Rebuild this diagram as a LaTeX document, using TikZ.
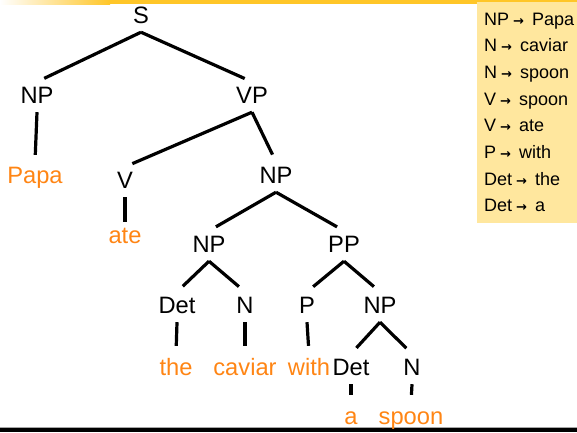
\documentclass[tikz,border=0pt]{standalone}
\usepackage{fontspec}
\usepackage{xcolor}
\usepackage{tikz}
\setmainfont{Liberation Sans}
\newfontfamily\arrowfont{DejaVu Sans}

\definecolor{wordorange}{RGB}{255,133,20}
\definecolor{rulefill}{RGB}{255,231,158}
\definecolor{topbar}{RGB}{255,198,40}

\newcommand{\rulearrow}{\hspace{4pt}{\arrowfont\bfseries\fontsize{13}{13}\selectfont →}\hspace{8pt}}

\begin{document}
\begin{tikzpicture}[x=1pt, y=-1pt,
    cat/.style={font=\fontsize{23.7}{28}\selectfont, inner xsep=0pt, inner ysep=4pt,
                text height=17pt, text depth=5pt, anchor=base},
    word/.style={cat, text=wordorange},
    branch/.style={line width=3.2pt, shorten >=8pt},
    ruletext/.style={font=\fontsize{18}{20}\selectfont, inner sep=0pt, anchor=base west}]
    \useasboundingbox (0,0) rectangle (577,432);

    % Draw slide bars
    \shade[left color=white, right color=topbar] (0,0) rectangle (110,4);
    \fill[topbar] (110,0) rectangle (577,4);
    \fill[gray!70] (0,426.5) rectangle (577,428);
    \fill[black] (0,428) rectangle (577,432);

    % Draw grammar rules
    \fill[rulefill] (477,2) rectangle (577,223);
    \foreach \lhs/\rhs [count=\i from 0] in {NP/Papa, N/caviar, N/spoon, V/spoon, V/ate, P/with, Det/the, Det/a}
        \node[ruletext] (rule\i) at (484,25+26.7*\i) {\lhs\rulearrow\rhs};

    % Draw categories
    \node[cat] (s) at (141,23) {S};
    \node[cat] (np1) at (37,103) {NP};
    \node[cat] (vp) at (252,103) {VP};
    \node[cat] (v) at (125,188) {V};
    \node[cat] (np2) at (276,183) {NP};
    \node[cat] (np3) at (209,252) {NP};
    \node[cat] (pp) at (344,252) {PP};
    \node[cat] (det1) at (177,313) {Det};
    \node[cat] (n1) at (245,313) {N};
    \node[cat] (p) at (307,313) {P};
    \node[cat] (np4) at (380,313) {NP};
    \node[cat] (det2) at (351,375) {Det};
    \node[cat] (n2) at (412,375) {N};

    % Draw words
    \node[word] (papa) at (35,183) {Papa};
    \node[word] (ate) at (125,243) {ate};
    \node[word] (the) at (176,375) {the};
    \node[word] (caviar) at (245,375) {caviar};
    \node[word] (with) at (309,375) {with};
    \node[word] (a) at (351,424) {a};
    \node[word] (spoon) at (411,424) {spoon};

    % Draw branches
    \draw[branch] (s.south) -- (np1.north);
    \draw[branch] (s.south) -- (vp.north);
    \draw[branch, shorten >=7pt] (np1.south) -- (papa.north);
    \draw[branch] (vp.south) -- (v.north);
    \draw[branch] (vp.south) -- (np2.north);
    \draw[branch, shorten >=0pt] (v.south) -- (ate.north);
    \draw[branch] (np2.south) -- (np3.north);
    \draw[branch] (np2.south) -- (pp.north);
    \draw[branch] (np3.south) -- (det1.north);
    \draw[branch] (np3.south) -- (n1.north);
    \draw[branch] (pp.south) -- (p.north);
    \draw[branch] (pp.south) -- (np4.north);
    \draw[branch] (det1.south) -- (the.north);
    \draw[branch] (n1.south) -- (caviar.north);
    \draw[branch] (p.south) -- (with.north);
    \draw[branch] (np4.south) -- (det2.north);
    \draw[branch] (np4.south) -- (n2.north);
    \draw[branch] (det2.south) -- (a.north);
    \draw[branch] (n2.south) -- (spoon.north);
\end{tikzpicture}
\end{document}
